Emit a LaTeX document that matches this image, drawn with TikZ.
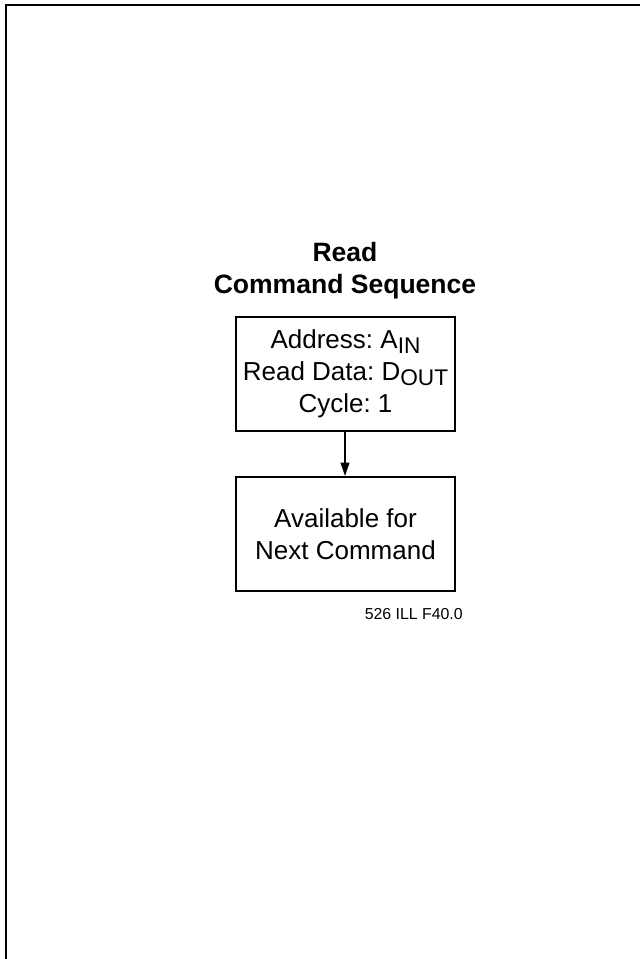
\documentclass[tikz,border=0pt]{standalone}
\usepackage{fontspec}
\setmainfont{Liberation Sans}
\usetikzlibrary{arrows.meta}
\frenchspacing
\newcommand\lowsub[1]{\raisebox{-3.75pt}{\fontsize{17}{17}\selectfont #1}}
\tikzset{
  frame/.style={line width=1.5pt},
  flowbox/.style={draw, line width=1.4pt, minimum width=219*0.75pt, minimum height=114*0.75pt, inner sep=0pt, align=center, font=\fontsize{19.5}{24}\selectfont},
  titletext/.style={inner sep=0pt, align=center, font=\fontsize{19.9}{23.5}\selectfont\bfseries},
  figlabel/.style={inner sep=0pt, font=\fontsize{11.9}{13}\selectfont},
  flowarrow/.style={line width=1.2pt, -{Triangle[length=10pt,width=6.5pt]}}
}
\begin{document}
\begin{tikzpicture}[x=0.75pt,y=-0.75pt]
\useasboundingbox (0,0) rectangle (640,959);
\coordinate (ftr) at (640,5);
\coordinate (ftl) at (6,5);
\coordinate (fbl) at (6,959);
\draw[frame] (ftr) -- (ftl) -- (fbl);
\node[titletext] (title) at (345,270.5) {Read\\Command Sequence};
\node[flowbox] (read) at (345.5,374) {Address: A\lowsub{IN}\\Read Data: D\lowsub{OUT}\\Cycle: 1};
\node[flowbox] (next) at (345.5,534) {Available for\\Next Command};
\draw[flowarrow] (read.south -| 345,0) -- (next.north -| 345,0);
\node[figlabel, anchor=base east] (lbl) at (463,619) {526 ILL F40.0};
\end{tikzpicture}
\end{document}
